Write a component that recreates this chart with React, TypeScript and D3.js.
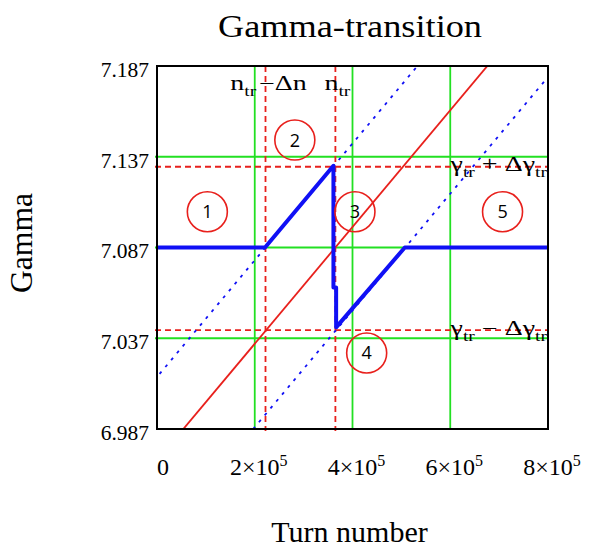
import React from 'react';
import * as d3 from 'd3';

// Axis ticks
const turnTicks = [0, 200000, 400000, 600000, 800000];
const turnTickBase = ['0', '2×10', '4×10', '6×10', '8×10'];
const turnTickExp = ['', '5', '5', '5', '5'];
const gammaTicks = [6.987, 7.037, 7.087, 7.137, 7.187];
const gammaTickLabels = ['6.987', '7.037', '7.087', '7.137', '7.187'];

// Grid lines
const gridTurns = [200000, 400000, 600000];
const gridGammas = [7.037, 7.087, 7.137];

// Transition parameters
const nTr = 365000;
const deltaN = 143000;
const gammaTr = 7.0865;
const deltaGamma = 0.045;

// Linear gamma ramp of the machine (runs past the frame and is clipped)
const rampTurns = [-100000, 900000];
const rampGammas = [6.9375, 7.2591];

// Beam gamma through the transition
const beamTurns = [0, 221000, 361000, 361000, 366500, 366500, 507000, 800000];
const beamGammas = [7.087, 7.087, 7.132, 7.065, 7.065, 7.043, 7.087, 7.087];

// Zone markers
const zoneTurns = [103000, 282000, 405000, 429000, 707000];
const zoneGammas = [7.1067, 7.1462, 7.1067, 7.0289, 7.1067];
const zoneLabels = ['1', '2', '3', '4', '5'];

const W = 601;
const H = 548;
const left = 157;
const right = 548;
const top = 66;
const bottom = 429;

const serif = "'Liberation Serif', 'DejaVu Serif', serif";
const GREEN = '#22e022';
const RED = '#e8201c';
const BLUE = '#1010f5';

export default function App() {
  const x = d3.scaleLinear().domain([0, 800000]).range([left, right]);
  const y = d3.scaleLinear().domain([6.987, 7.187]).range([bottom, top]);

  const line = d3
    .line<[number, number]>()
    .x((d) => x(d[0]))
    .y((d) => y(d[1]));

  const ramp = (shift: number) =>
    line(rampTurns.map((n, i) => [n + shift, rampGammas[i]] as [number, number])) || '';
  const beam = line(beamTurns.map((n, i) => [n, beamGammas[i]] as [number, number])) || '';

  const dashedTurns = [nTr - deltaN, nTr];
  const dashedGammas = [gammaTr + deltaGamma, gammaTr - deltaGamma];

  const sx = 1.4;

  return (
    <svg
      width={W}
      height={H}
      style={{ position: 'absolute', left: 0, top: 0, background: '#fff', fontFamily: serif }}
    >
      <defs>
        <clipPath id="plotClip">
          <rect x={left} y={top} width={right - left} height={bottom - top} />
        </clipPath>
      </defs>

      <text x={350} y={37} textAnchor="middle" fontSize={32} textLength={264} lengthAdjust="spacingAndGlyphs">
        Gamma-transition
      </text>

      {/* grid */}
      {gridTurns.map((n) => (
        <line key={'gv' + n} x1={x(n)} x2={x(n)} y1={top} y2={bottom} stroke={GREEN} strokeWidth={1.8} />
      ))}
      {gridGammas.map((g) => (
        <line key={'gh' + g} x1={left - 2} x2={right} y1={y(g)} y2={y(g)} stroke={GREEN} strokeWidth={1.8} />
      ))}

      {/* transition markers */}
      {dashedTurns.map((n) => (
        <line key={'dv' + n} x1={x(n)} x2={x(n)} y1={top} y2={bottom + 2} stroke={RED} strokeWidth={1.8} strokeDasharray="6 4" />
      ))}
      {dashedGammas.map((g) => (
        <line key={'dh' + g} x1={left - 2} x2={right} y1={y(g)} y2={y(g)} stroke={RED} strokeWidth={1.8} strokeDasharray="6 4" />
      ))}

      <g clipPath="url(#plotClip)">
        <path d={ramp(-deltaN)} fill="none" stroke={BLUE} strokeWidth={1.8} strokeDasharray="3 6" />
        <path d={ramp(deltaN)} fill="none" stroke={BLUE} strokeWidth={1.8} strokeDasharray="3 6" />
        <path d={ramp(0)} fill="none" stroke={RED} strokeWidth={1.8} />
        <path d={beam} fill="none" stroke={BLUE} strokeWidth={4} strokeLinejoin="round" />
      </g>

      {/* zone markers */}
      {zoneTurns.map((n, i) => (
        <g key={'z' + i}>
          <circle cx={x(n)} cy={y(zoneGammas[i])} r={20} fill="none" stroke={RED} strokeWidth={1.6} />
          <text
            x={x(n)}
            y={y(zoneGammas[i])}
            dy="0.36em"
            textAnchor="middle"
            fontSize={18}
            style={{ fontFamily: "'Open Sans', sans-serif" }}
          >
            {zoneLabels[i]}
          </text>
        </g>
      ))}

      {/* marker labels */}
      <g transform={`translate(${x(nTr - deltaN) + 3},${top + 24}) scale(${sx},1)`}>
        <text textAnchor="middle" fontSize={20}>
          n<tspan fontSize={14} dy={6}>tr</tspan>
          <tspan dy={-6} dx={2}>−Δn</tspan>
        </text>
      </g>
      <g transform={`translate(${x(nTr) + 2},${top + 24}) scale(${sx},1)`}>
        <text textAnchor="middle" fontSize={20}>
          n<tspan fontSize={14} dy={6}>tr</tspan>
        </text>
      </g>
      <g transform={`translate(${right - 1},${y(gammaTr + deltaGamma) + 4.5}) scale(${sx},1)`}>
        <text textAnchor="end" fontSize={20}>
          γ<tspan fontSize={14} dy={6}>tr</tspan>
          <tspan dy={-6}> + Δγ</tspan>
          <tspan fontSize={14} dy={6}>tr</tspan>
        </text>
      </g>
      <g transform={`translate(${right - 1},${y(gammaTr - deltaGamma) + 4.5}) scale(${sx},1)`}>
        <text textAnchor="end" fontSize={20}>
          γ<tspan fontSize={14} dy={6}>tr</tspan>
          <tspan dy={-6}> − Δγ</tspan>
          <tspan fontSize={14} dy={6}>tr</tspan>
        </text>
      </g>

      {/* frame */}
      <rect x={left} y={top} width={right - left} height={bottom - top} fill="none" stroke="#000" strokeWidth={2} />

      {/* y ticks */}
      {gammaTicks.map((g, i) => (
        <text key={'yt' + g} x={left - 8} y={y(g) + 10.8} textAnchor="end" fontSize={21.5}>
          {gammaTickLabels[i]}
        </text>
      ))}

      {/* x ticks */}
      {turnTicks.map((n, i) =>
        turnTickExp[i] ? (
          <text key={'xt' + n} x={x(n) - 24.8} y={475} fontSize={24}>
            {turnTickBase[i]}
            <tspan fontSize={16} dy={-9}>
              {turnTickExp[i]}
            </tspan>
          </text>
        ) : (
          <text key={'xt' + n} x={x(n)} y={475} fontSize={24}>
            {turnTickBase[i]}
          </text>
        )
      )}

      <text x={349.5} y={542} textAnchor="middle" fontSize={30}>
        Turn number
      </text>
      <text transform="translate(32,243) rotate(-90)" textAnchor="middle" fontSize={32} textLength={100} lengthAdjust="spacingAndGlyphs">
        Gamma
      </text>
    </svg>
  );
}
